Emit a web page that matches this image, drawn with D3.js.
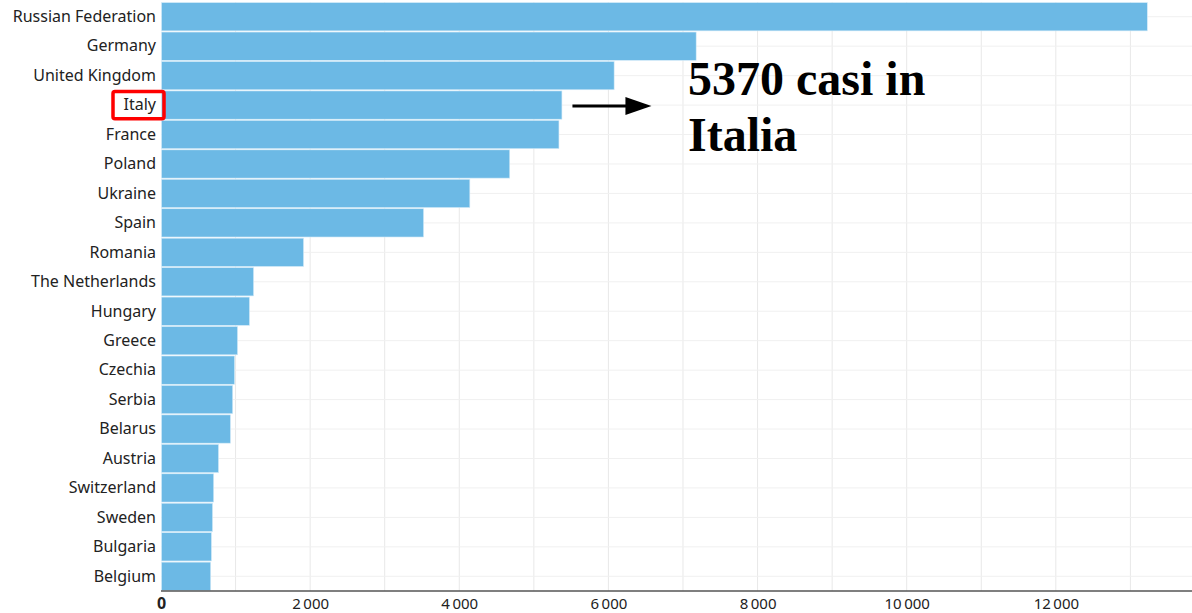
<!doctype html>
<html>
<head>
<meta charset="utf-8">
<title>casi</title>
<script src="https://d3js.org/d3.v7.min.js"></script>
<style>
  body { margin:0; background:#fff; }
  svg { display:block; font-family:"Noto Sans","Open Sans",sans-serif; }
</style>
</head>
<body>
<div id="chart"></div>
<script>
// dati
var countries = ["Russian Federation","Germany","United Kingdom","Italy","France","Poland","Ukraine","Spain","Romania","The Netherlands","Hungary","Greece","Czechia","Serbia","Belarus","Austria","Switzerland","Sweden","Bulgaria","Belgium"];
var cases = [13220,7170,6070,5370,5330,4670,4135,3515,1905,1235,1180,1020,980,955,925,765,700,685,670,660];
var xTicks = [0,2000,4000,6000,8000,10000,12000];
var noteLines = ["5370 casi in","Italia"];

var width = 1192, height = 613;
var margin = {left:161, right:0, top:2, bottom:22};

var svg = d3.select("#chart").append("svg")
  .attr("width", width)
  .attr("height", height);

var x = d3.scaleLinear()
  .domain([0, 13826])
  .range([margin.left, width - margin.right]);

var y = d3.scaleBand()
  .domain(countries)
  .range([margin.top, height - margin.bottom])
  .paddingInner(0.04)
  .paddingOuter(0.02);

// griglia verticale ogni 1000
svg.append("g").selectAll("line")
  .data(d3.range(1000, 14000, 1000))
  .enter().append("line")
  .attr("x1", d => x(d)).attr("x2", d => x(d))
  .attr("y1", margin.top).attr("y2", height - margin.bottom)
  .attr("stroke", "#e8e8e8").attr("stroke-width", 1);

// griglia orizzontale al centro delle righe
svg.append("g").selectAll("line")
  .data(countries)
  .enter().append("line")
  .attr("x1", margin.left).attr("x2", width)
  .attr("y1", d => y(d) + y.bandwidth()/2).attr("y2", d => y(d) + y.bandwidth()/2)
  .attr("stroke", "#f0f0f0").attr("stroke-width", 1);

// barre
svg.append("g").selectAll("rect")
  .data(cases)
  .enter().append("rect")
  .attr("x", x(0) + 0.5)
  .attr("y", (d, i) => y(countries[i]))
  .attr("width", d => x(d) - x(0))
  .attr("height", y.bandwidth())
  .attr("fill", "#6cb9e5")
  .attr("stroke", "#d4ebf8")
  .attr("stroke-width", 0.6);

// etichette paesi
svg.append("g").selectAll("text")
  .data(countries)
  .enter().append("text")
  .attr("x", margin.left - 5)
  .attr("y", d => y(d) + y.bandwidth()/2)
  .attr("dy", "0.33em")
  .attr("text-anchor", "end")
  .attr("font-size", 16)
  .attr("fill", "#222")
  .text(d => d);

// asse x
var fmt = d3.formatLocale({decimal:",", thousands:"\u2009", grouping:[3], currency:["",""]}).format(",d");
var xAxis = svg.append("g")
  .attr("transform", "translate(0," + (height - margin.bottom) + ")")
  .call(d3.axisBottom(x).tickValues(xTicks).tickSize(0).tickPadding(7).tickFormat(d => d === 0 ? "0" : fmt(d)));
xAxis.select(".domain").attr("stroke", "#555").attr("stroke-width", 1.3).attr("d", "M" + margin.left + ",0H" + width);
xAxis.selectAll("text")
  .attr("font-size", d => d === 0 ? 16 : 15)
  .attr("fill", "#222")
  .attr("font-family", "'Noto Sans','Open Sans',sans-serif")
  .attr("font-weight", d => d === 0 ? "bold" : "normal");

// riquadro rosso su Italy
var yi = y("Italy");
svg.append("rect")
  .attr("x", 113).attr("y", yi + 0.5)
  .attr("width", 51).attr("height", y.bandwidth() - 1)
  .attr("rx", 2)
  .attr("fill", "none")
  .attr("stroke", "#ff0000")
  .attr("stroke-width", 3.5);

// freccia
var ay = yi + y.bandwidth()/2 + 1;
svg.append("line")
  .attr("x1", x(5370) + 11).attr("x2", x(5370) + 70)
  .attr("y1", ay).attr("y2", ay)
  .attr("stroke", "#000").attr("stroke-width", 3);
svg.append("path")
  .attr("d", "M" + (x(5370) + 90) + "," + ay + "L" + (x(5370) + 64) + "," + (ay - 9) + "L" + (x(5370) + 64) + "," + (ay + 9) + "Z")
  .attr("fill", "#000");

// annotazione
svg.append("g").selectAll("text")
  .data(noteLines)
  .enter().append("text")
  .attr("x", 688)
  .attr("y", (d, i) => 95 + i * 56)
  .attr("font-family", "'Liberation Serif','Times New Roman',serif")
  .attr("font-weight", "bold")
  .attr("font-size", 48)
  .attr("fill", "#000")
  .text(d => d);
</script>
</body>
</html>
